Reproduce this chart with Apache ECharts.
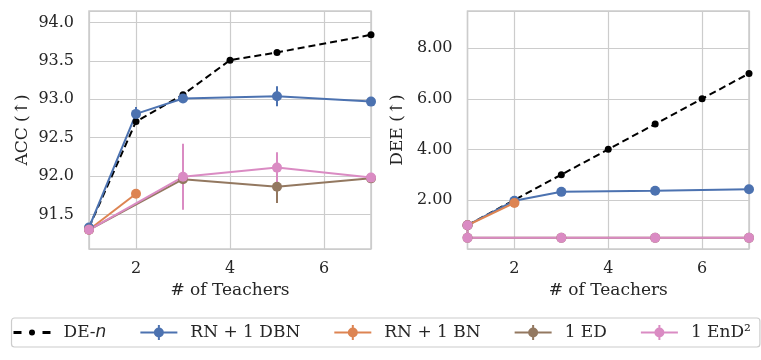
<!DOCTYPE html>
<html>
<head>
<meta charset="utf-8">
<script src="https://cdn.jsdelivr.net/npm/echarts@6/dist/echarts.min.js"></script>
<style>
  html, body { margin: 0; padding: 0; background: #fff; }
  #chart { width: 761px; height: 360px; }
</style>
</head>
<body>
<div id="chart"></div>
<script>
  // ACC panel (left)
  let accDeX = [1, 2, 3, 4, 5, 7];
  let accDeY = [91.33, 92.71, 93.06, 93.51, 93.61, 93.84];
  let accDbnX = [1, 2, 3, 5, 7];
  let accDbnY = [91.33, 92.81, 93.01, 93.04, 92.97];
  let accDbnErr = [0, 0.09, 0.02, 0.13, 0.02];
  let accBnX = [1, 2];
  let accBnY = [91.30, 91.77];
  let accEdX = [1, 3, 5, 7];
  let accEdY = [91.30, 91.96, 91.86, 91.97];
  let accEdErr = [0, 0.04, 0.21, 0.03];
  let accEndX = [1, 3, 5, 7];
  let accEndY = [91.30, 91.99, 92.11, 91.98];
  let accEndErr = [0, 0.43, 0.20, 0.02];

  // DEE panel (right)
  let deeDeX = [1, 2, 3, 4, 5, 6, 7];
  let deeDeY = [1, 2, 3, 4, 5, 6, 7];
  let deeDbnX = [1, 2, 3, 5, 7];
  let deeDbnY = [1.0, 1.97, 2.32, 2.36, 2.42];
  let deeBnX = [1, 2];
  let deeBnY = [1.0, 1.88];
  let deeEdX = [1, 1, 3, 5, 7];
  let deeEdY = [1.0, 0.5, 0.5, 0.5, 0.5];
  let deeEndX = [1, 1, 3, 5, 7];
  let deeEndY = [1.0, 0.5, 0.5, 0.5, 0.5];

  const FONT = 'DejaVu Serif';
  const TXT = '#262626';
  const GRIDC = '#cccccc';
  const C = { de: '#000000', dbn: '#4c72b0', bn: '#dd8452', ed: '#937860', end: '#da8bc3' };

  function pairs(xs, ys) {
    return xs.map((x, i) => [x, ys[i]]);
  }
  function triples(xs, ys, es) {
    return xs.map((x, i) => [x, ys[i], es[i]]);
  }

  function errSeries(idx, xs, ys, es, color) {
    return {
      type: 'custom',
      xAxisIndex: idx,
      yAxisIndex: idx,
      silent: true,
      z: 2,
      data: triples(xs, ys, es),
      renderItem(params, api) {
        const x = api.value(0), y = api.value(1), e = api.value(2);
        const p1 = api.coord([x, y - e]);
        const p2 = api.coord([x, y + e]);
        return {
          type: 'line',
          shape: { x1: p1[0], y1: p1[1], x2: p2[0], y2: p2[1] },
          style: { stroke: color, lineWidth: 2 }
        };
      }
    };
  }

  function lineSeries(idx, name, xs, ys, color, opts) {
    opts = opts || {};
    return {
      name: name,
      type: 'line',
      xAxisIndex: idx,
      yAxisIndex: idx,
      data: pairs(xs, ys),
      symbol: 'circle',
      symbolSize: opts.size || 10,
      showAllSymbol: true,
      z: 2,
      lineStyle: { color: color, width: 2, type: opts.dash ? [7, 4] : 'solid' },
      itemStyle: { color: color },
      emphasis: { disabled: true },
      animation: false
    };
  }

  function xAxisOf(idx) {
    return {
      type: 'value',
      gridIndex: idx,
      min: 1,
      max: 7,
      splitNumber: 3,
      name: '# of Teachers',
      nameLocation: 'middle',
      nameGap: 33,
      nameTextStyle: { fontFamily: FONT, fontSize: 17, color: TXT },
      axisLine: { show: false },
      axisTick: { show: false },
      axisLabel: {
        fontFamily: FONT, fontSize: 16, color: TXT, margin: 12,
        showMinLabel: false, showMaxLabel: false,
        formatter: v => (v % 2 === 0 ? String(v) : '')
      },
      splitLine: { show: true, lineStyle: { color: GRIDC, width: 1.2 } }
    };
  }

  function yAxisOf(idx, name, min, max, digits, gap) {
    return {
      type: 'value',
      gridIndex: idx,
      min: min,
      max: max,
      splitNumber: 5,
      name: name,
      nameLocation: 'middle',
      nameGap: gap,
      nameTextStyle: { fontFamily: FONT, fontSize: 17, color: TXT },
      axisLine: { show: false },
      axisTick: { show: false },
      axisLabel: {
        fontFamily: FONT, fontSize: 16, color: TXT, margin: 15,
        showMinLabel: false, showMaxLabel: false,
        formatter: v => v.toFixed(digits)
      },
      splitLine: { show: true, lineStyle: { color: GRIDC, width: 1.2 } }
    };
  }

  // legend icons: line + errorbar + dot, and dash-dot-dash for DE-n
  const ICON_ERR = 'path://M0 6.5H37V8.5H0Z M17.5 0H19.5V15H17.5Z M13.5 7.5A5 5 0 1 1 23.5 7.5A5 5 0 1 1 13.5 7.5Z';
  const ICON_DE = 'path://M0 6H8V9H0Z M29 6H37V9H29Z M15.5 7.5A3 3 0 1 1 21.5 7.5A3 3 0 1 1 15.5 7.5Z';

  const chart = echarts.init(document.getElementById('chart'), null, { renderer: 'canvas' });
  chart.setOption({
    animation: false,
    backgroundColor: '#ffffff',
    grid: [
      { left: 89, top: 11, width: 282, height: 238, show: true, borderColor: GRIDC, borderWidth: 1.5, backgroundColor: '#fff' },
      { left: 467.5, top: 11, width: 281.5, height: 238, show: true, borderColor: GRIDC, borderWidth: 1.5, backgroundColor: '#fff' }
    ],
    xAxis: [xAxisOf(0), xAxisOf(1)],
    yAxis: [
      yAxisOf(0, 'ACC (↑)', 91.05, 94.15, 1, 58),
      yAxisOf(1, 'DEE (↑)', 0.06, 9.47, 2, 61)
    ],
    legend: {
      left: 11.5,
      top: 318,
      itemGap: 34,
      itemWidth: 37,
      itemHeight: 15,
      padding: [6, 9, 6, 2],
      borderColor: GRIDC,
      borderWidth: 1.2,
      borderRadius: 3,
      backgroundColor: '#fff',
      selectedMode: false,
      textStyle: {
        fontFamily: FONT, fontSize: 17, color: TXT, padding: [0, 0, 0, 8],
        rich: { i: { fontFamily: 'DejaVu Sans', fontStyle: 'italic', fontSize: 17, color: TXT } }
      },
      formatter: name => (name === 'DE-n' ? 'DE-{i|n}' : name),
      data: [
        { name: 'DE-n', icon: ICON_DE, itemStyle: { color: C.de } },
        { name: 'RN + 1 DBN', icon: ICON_ERR, itemStyle: { color: C.dbn } },
        { name: 'RN + 1 BN', icon: ICON_ERR, itemStyle: { color: C.bn } },
        { name: '1 ED', icon: ICON_ERR, itemStyle: { color: C.ed } },
        { name: '1 EnD²', icon: ICON_ERR, itemStyle: { color: C.end } }
      ]
    },
    series: [
      lineSeries(0, 'DE-n', accDeX, accDeY, C.de, { dash: true, size: 7 }),
      errSeries(0, accDbnX, accDbnY, accDbnErr, C.dbn),
      lineSeries(0, 'RN + 1 DBN', accDbnX, accDbnY, C.dbn),
      lineSeries(0, 'RN + 1 BN', accBnX, accBnY, C.bn),
      errSeries(0, accEdX, accEdY, accEdErr, C.ed),
      lineSeries(0, '1 ED', accEdX, accEdY, C.ed),
      errSeries(0, accEndX, accEndY, accEndErr, C.end),
      lineSeries(0, '1 EnD²', accEndX, accEndY, C.end),

      lineSeries(1, 'DE-n', deeDeX, deeDeY, C.de, { dash: true, size: 7 }),
      lineSeries(1, 'RN + 1 DBN', deeDbnX, deeDbnY, C.dbn),
      lineSeries(1, 'RN + 1 BN', deeBnX, deeBnY, C.bn),
      lineSeries(1, '1 ED', deeEdX, deeEdY, C.ed),
      lineSeries(1, '1 EnD²', deeEndX, deeEndY, C.end)
    ]
  });
</script>
</body>
</html>
